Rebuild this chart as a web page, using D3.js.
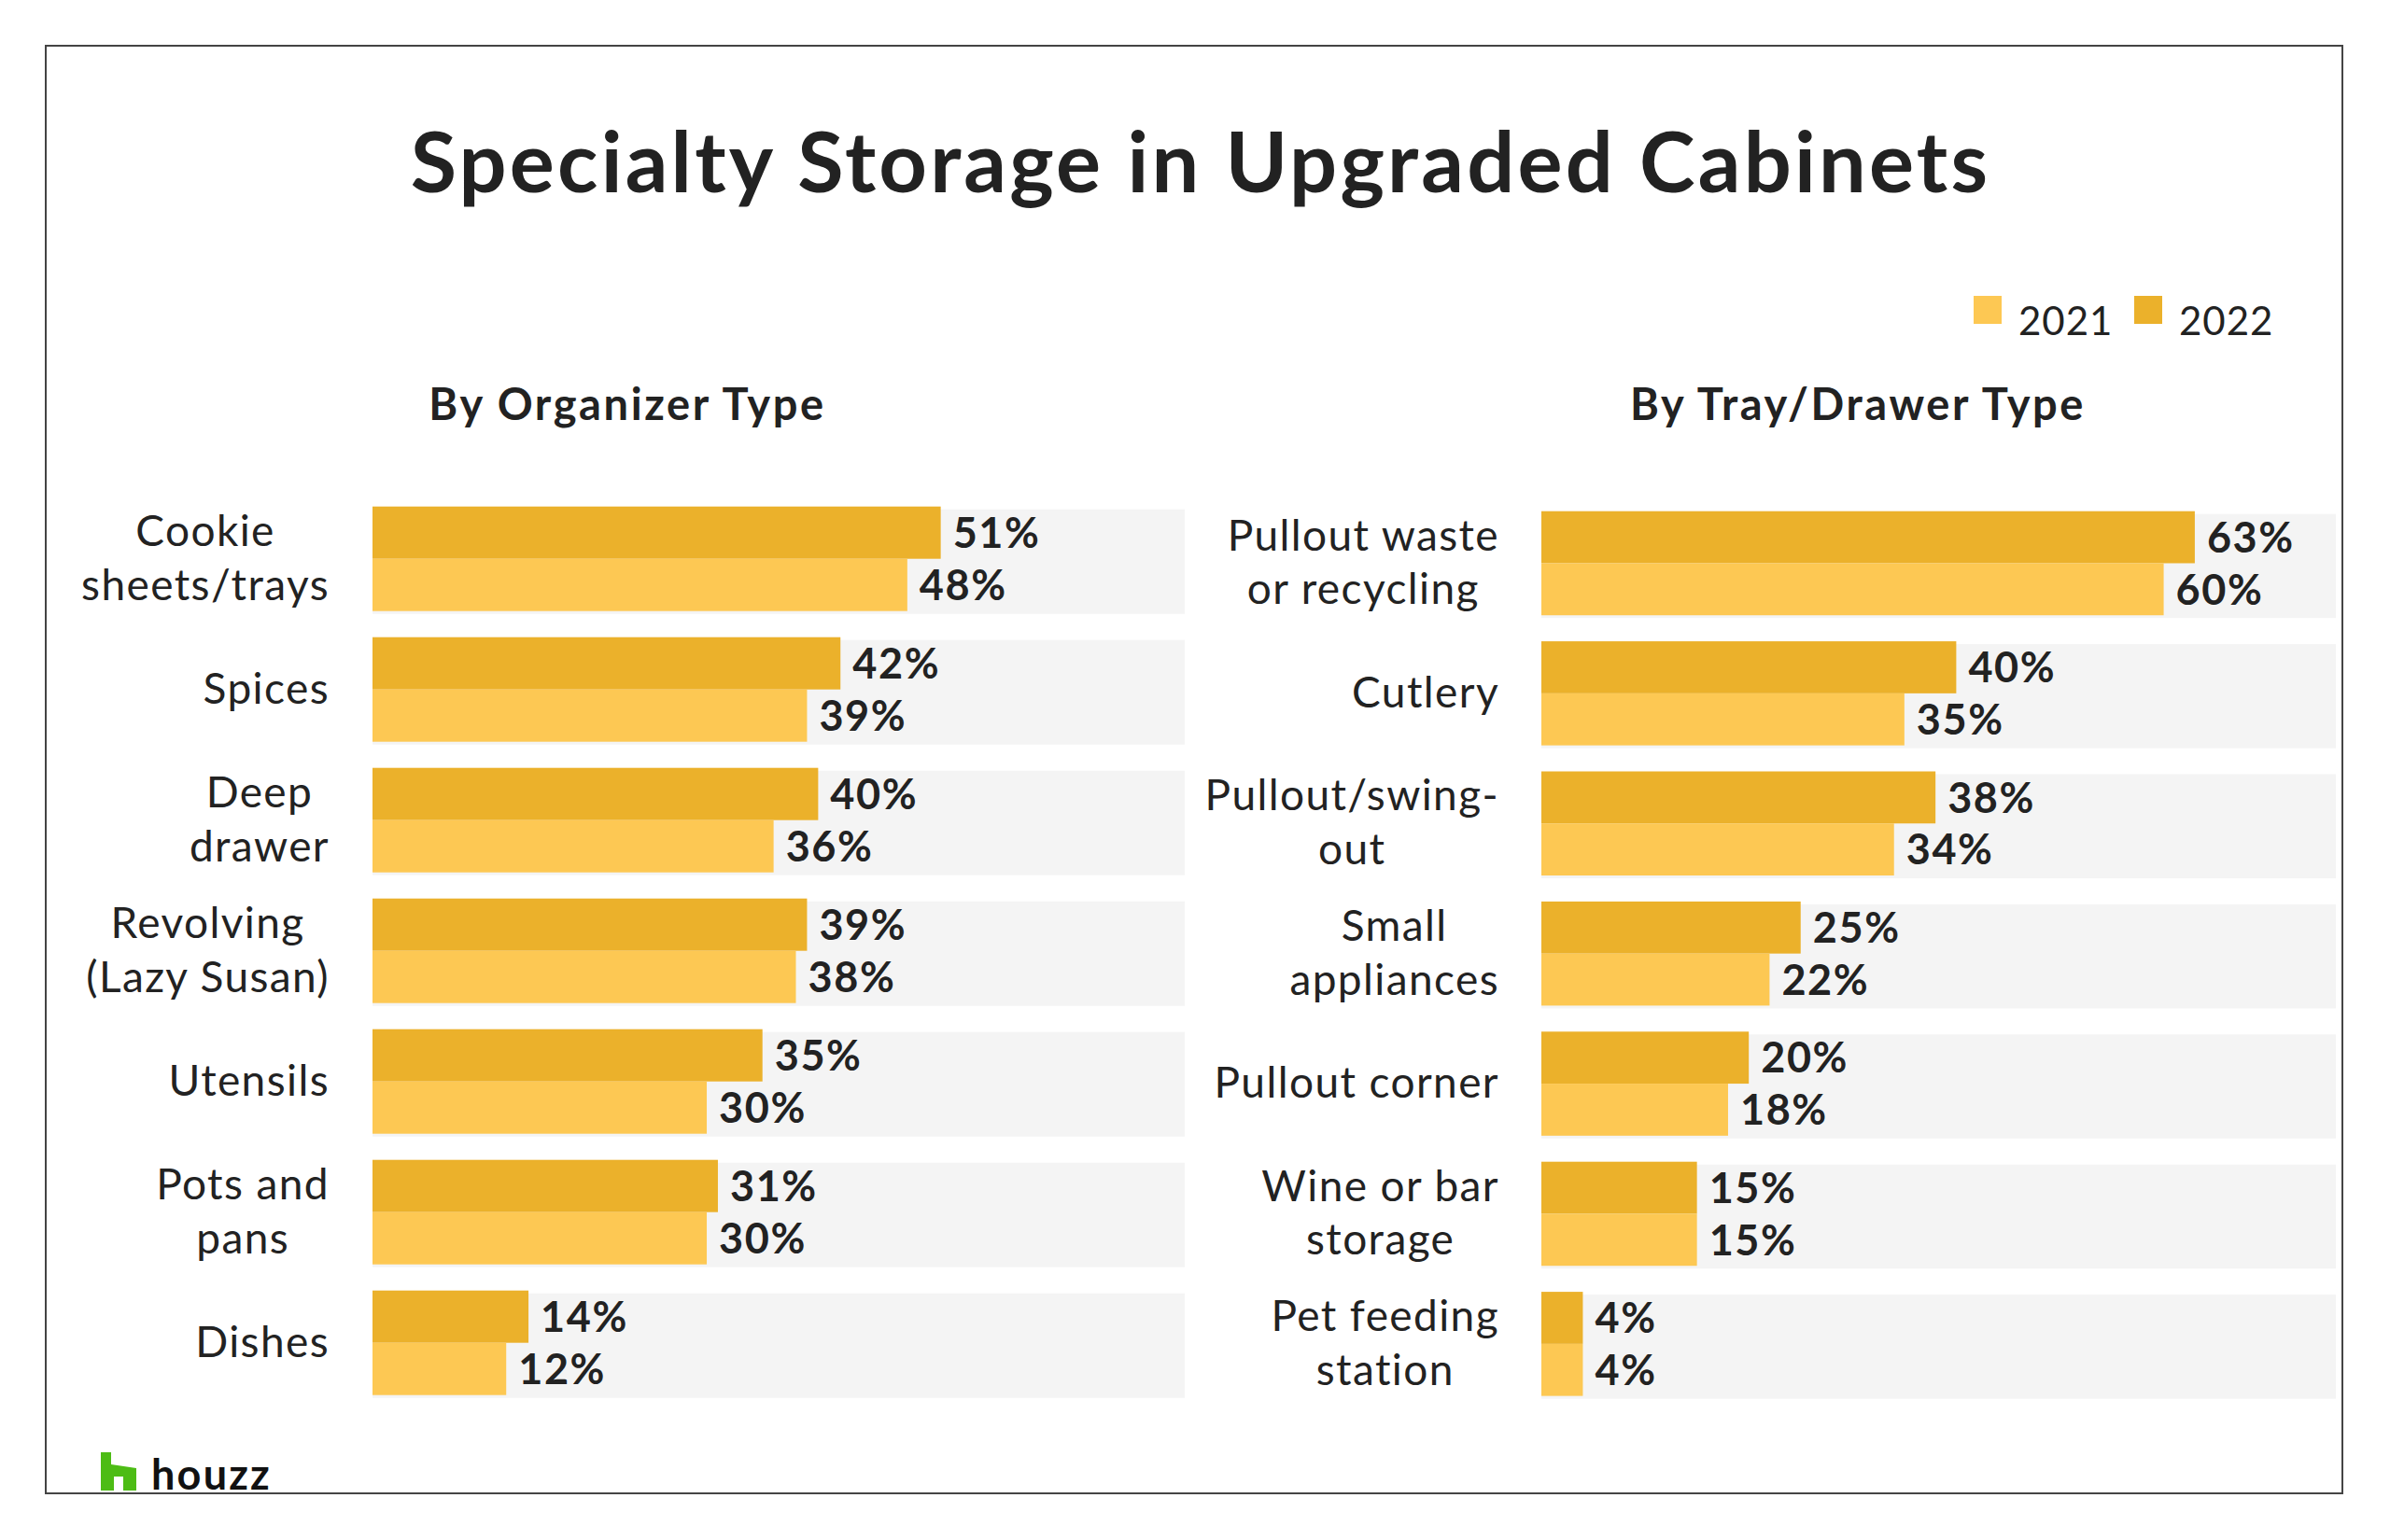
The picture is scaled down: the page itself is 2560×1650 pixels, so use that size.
<!DOCTYPE html>
<html>
<head>
<meta charset="utf-8">
<script src="https://cdn.jsdelivr.net/npm/d3@7"></script>
<style>
  body { margin: 0; background: #fff; }
  text { font-family: Lato, "Noto Sans", sans-serif; fill: #222; }
</style>
</head>
<body>
<script>
// data, left panel
var leftCategories = [
    ["Cookie", "sheets/trays"], ["Spices"], ["Deep", "drawer"],
    ["Revolving", "(Lazy Susan)"], ["Utensils"], ["Pots and", "pans"], ["Dishes"]
];
var left2022 = [51, 42, 40, 39, 35, 31, 14];
var left2021 = [48, 39, 36, 38, 30, 30, 12];

// data, right panel
var rightCategories = [
    ["Pullout waste", "or recycling"], ["Cutlery"], ["Pullout/swing-", "out"],
    ["Small", "appliances"], ["Pullout corner"], ["Wine or bar", "storage"], ["Pet feeding", "station"]
];
var right2022 = [63, 40, 38, 25, 20, 15, 4];
var right2021 = [60, 35, 34, 22, 18, 15, 4];

var years = ["2021", "2022"];
var colors = { "2021": "#fdc853", "2022": "#ebb12b" };

var width = 2560;
var height = 1650;

var svg = d3.select("body")
    .append("svg")
    .attr("width", width)
    .attr("height", height);

// frame
svg.append("rect")
    .attr("x", 49).attr("y", 49)
    .attr("width", 2460).attr("height", 1551)
    .attr("fill", "none")
    .attr("stroke", "#444")
    .attr("stroke-width", 2);

// title
svg.append("text")
    .attr("x", 1286).attr("y", 206)
    .attr("text-anchor", "middle")
    .attr("font-size", 90)
    .attr("font-weight", 700)
    .attr("letter-spacing", 3.2)
    .text("Specialty Storage in Upgraded Cabinets");

// legend
var legend = svg.append("g").attr("class", "legend");
var legendX = [2114, 2286];
years.forEach(function (y, i) {
    legend.append("rect")
        .attr("x", legendX[i]).attr("y", 317)
        .attr("width", 30).attr("height", 30)
        .attr("fill", colors[y]);
    legend.append("text")
        .attr("x", legendX[i] + 48).attr("y", 359)
        .attr("font-size", 42)
        .attr("letter-spacing", 1)
        .text(y);
});

// one panel of grouped bars
function drawPanel(opts) {
    var g = svg.append("g");

    var xScale = d3.scaleLinear()
        .domain([0, opts.xMax])
        .range([opts.x0, opts.x1]);

    var yScale = d3.scaleBand()
        .domain(d3.range(opts.categories.length))
        .range([opts.y0, opts.y0 + opts.step * (opts.categories.length - 0.2)])
        .paddingInner(0.2)
        .paddingOuter(0);

    var sub = d3.scaleBand()
        .domain(["2022", "2021"])
        .range([0, yScale.bandwidth()]);

    g.append("text")
        .attr("x", opts.subX).attr("y", 450)
        .attr("text-anchor", "middle")
        .attr("font-size", 47)
        .attr("font-weight", 700)
        .attr("letter-spacing", 2.6)
        .text(opts.subtitle);

    var rows = g.selectAll("g.row")
        .data(opts.categories)
        .enter()
        .append("g")
        .attr("class", "row")
        .attr("transform", function (d, i) {
            return "translate(0," + yScale(i) + ")";
        });

    // grey track
    rows.append("rect")
        .attr("x", xScale(0))
        .attr("y", 3)
        .attr("width", xScale(opts.xMax) - xScale(0))
        .attr("height", yScale.bandwidth())
        .attr("fill", "#f4f4f4");

    ["2022", "2021"].forEach(function (yr) {
        var vals = yr === "2022" ? opts.v2022 : opts.v2021;
        rows.append("rect")
            .attr("x", xScale(0))
            .attr("y", sub(yr))
            .attr("width", function (d, i) { return xScale(vals[i]) - xScale(0); })
            .attr("height", sub.bandwidth())
            .attr("fill", colors[yr]);
        rows.append("text")
            .attr("x", function (d, i) { return xScale(vals[i]) + 13; })
            .attr("y", sub(yr) + sub.bandwidth() / 2)
            .attr("dy", "0.36em")
            .attr("font-size", 45)
            .attr("font-weight", 700)
            .attr("letter-spacing", 1.6)
            .text(function (d, i) { return vals[i] + "%"; });
    });

    // category labels: lines centred in a block that is right aligned
    rows.each(function (lines) {
        var row = d3.select(this);
        var lh = 57.7;
        var mid = yScale.bandwidth() / 2 + 15;
        var t = row.selectAll("text.cat")
            .data(lines)
            .enter()
            .append("text")
            .attr("class", "cat")
            .attr("font-size", 46)
            .attr("letter-spacing", 1.4)
            .attr("text-anchor", "middle")
            .attr("y", function (d, i) { return mid + (i - (lines.length - 1) / 2) * lh; })
            .text(function (d) { return d; });
        var maxW = 0;
        t.each(function () { maxW = Math.max(maxW, this.getComputedTextLength()); });
        t.attr("x", opts.labelRight - maxW / 2);
    });
}

drawPanel({
    categories: leftCategories, v2022: left2022, v2021: left2021,
    subtitle: "By Organizer Type", subX: 672,
    x0: 399, x1: 1269, xMax: 72.9,
    y0: 542.7, step: 140, labelRight: 353
});

drawPanel({
    categories: rightCategories, v2022: right2022, v2021: right2021,
    subtitle: "By Tray/Drawer Type", subX: 1990,
    x0: 1651, x1: 2502, xMax: 76.6,
    y0: 547.7, step: 139.4, labelRight: 1606
});

// houzz mark
svg.append("path")
    .attr("d", "M108,1556 L119,1556 L119,1569 L146,1573 L146,1597 L132,1597 L132,1582 L122,1582 L122,1597 L108,1597 Z")
    .attr("fill", "#4dbc15");
svg.append("text")
    .attr("x", 162).attr("y", 1596)
    .attr("font-size", 45)
    .attr("font-weight", 700)
    .attr("letter-spacing", 2.2)
    .style("fill", "#111")
    .text("houzz");
</script>
</body>
</html>
